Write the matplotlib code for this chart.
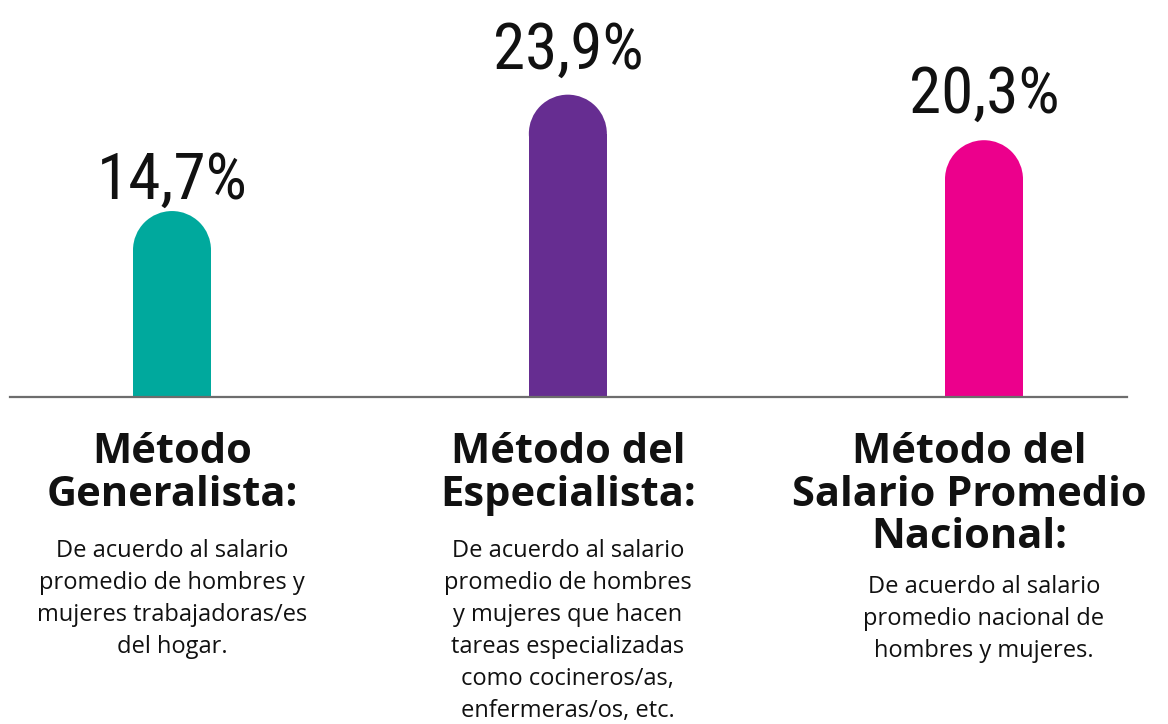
import matplotlib
matplotlib.use("Agg")
import matplotlib.pyplot as plt
import matplotlib.transforms as mtransforms
from matplotlib.patches import Ellipse

# data
values = [14.7, 23.9, 20.3]
value_labels = ["14,7%", "23,9%", "20,3%"]
titles = [
    "Método\nGeneralista:",
    "Método del\nEspecialista:",
    "Método del\nSalario Promedio\nNacional:",
]
descriptions = [
    "De acuerdo al salario\npromedio de hombres y\nmujeres trabajadoras/es\ndel hogar.",
    "De acuerdo al salario\npromedio de hombres\ny mujeres que hacen\ntareas especializadas\ncomo cocineros/as,\nenfermeras/os, etc.",
    "De acuerdo al salario\npromedio nacional de\nhombres y mujeres.",
]
colors = ["#00a99d", "#662d91", "#ec008c"]

# layout (pixels of a 1168x724 canvas)
W, H = 1168, 724
base_px = 397
px_per_unit_y = 12.65
x_first_px, x_step_px = 172, 406
xpos = [0, 0.975, 2]
bar_w_px = 78
label_gap_px = [12, 26, 27]
title_top_px = [432, 432, 432]
title_shift_px = [0, 0, -15]
desc_top_px = [539, 539, 575]

fig = plt.figure(figsize=(W / 100, H / 100), dpi=100)
ax = fig.add_axes([0, 1 - base_px / H, 1, base_px / H])
ax.set_xlim(-x_first_px / x_step_px, (W - x_first_px) / x_step_px)
ax.set_ylim(0, base_px / px_per_unit_y)
ax.axis("off")

bw = bar_w_px / x_step_px
ry = (bar_w_px / 2) / px_per_unit_y
for x, v, c in zip(xpos, values, colors):
    ax.bar(x, v - ry, width=bw, bottom=0, color=c, linewidth=0)
    ax.add_patch(Ellipse((x, v - ry), bw, 2 * ry, color=c, linewidth=0))

ax.axhline(0, xmin=10 / W, xmax=1127 / W, color="#6d6d6d", lw=1.6, clip_on=False)

for x, v, lab, gap in zip(xpos, values, value_labels, label_gap_px):
    ax.annotate(lab, (x, v), xytext=(0, gap * 0.72), textcoords="offset points",
                ha="center", va="baseline", fontsize=47, fontstretch="condensed",
                family=["Roboto Condensed", "DejaVu Sans"], color="#111111")

trans = mtransforms.blended_transform_factory(ax.transData, fig.transFigure)
for x, t, d, ty, sh, dy in zip(xpos, titles, descriptions, title_top_px,
                               title_shift_px, desc_top_px):
    offs = mtransforms.ScaledTranslation(sh / 100, 0, fig.dpi_scale_trans)
    fig.text(x, 1 - ty / H, t, transform=trans + offs, ha="center", va="top",
             fontsize=30, fontweight="bold", family="Open Sans",
             linespacing=1.05, color="#111111")
    fig.text(x, 1 - dy / H, d, transform=trans, ha="center", va="top",
             fontsize=17, family="Open Sans", linespacing=1.44, color="#111111")

fig.savefig("out.png", dpi=100, facecolor="white")
